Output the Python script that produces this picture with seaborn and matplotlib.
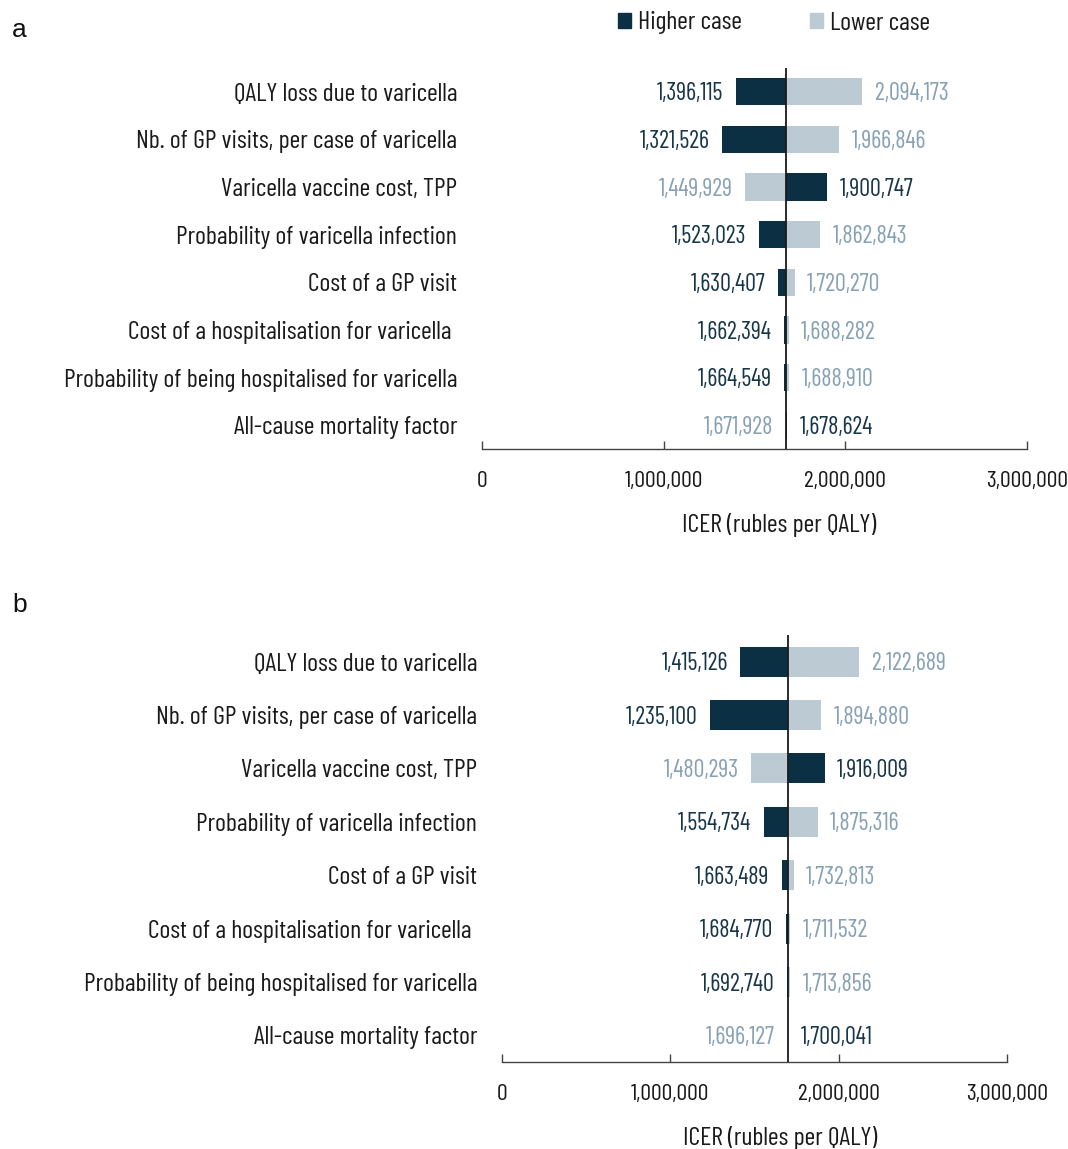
import matplotlib
matplotlib.use("Agg")
import matplotlib.pyplot as plt
import seaborn as sns
import pandas as pd
from matplotlib.patches import Patch

# ---------------- data ----------------
parameters = [
    "QALY loss due to varicella",
    "Nb. of GP visits, per case of varicella",
    "Varicella vaccine cost, TPP",
    "Probability of varicella infection",
    "Cost of a GP visit",
    "Cost of a hospitalisation for varicella ",
    "Probability of being hospitalised for varicella",
    "All-cause mortality factor",
]
cases = ["Higher case", "Lower case"]

higher_a = [1396115, 1321526, 1900747, 1523023, 1630407, 1662394, 1664549, 1678624]
lower_a = [2094173, 1966846, 1449929, 1862843, 1720270, 1688282, 1688910, 1671928]
base_a = 1675000

higher_b = [1415126, 1235100, 1916009, 1554734, 1663489, 1684770, 1692740, 1700041]
lower_b = [2122689, 1894880, 1480293, 1875316, 1732813, 1711532, 1713856, 1696127]
base_b = 1698500

x_ticks = [0, 1000000, 2000000, 3000000]
x_tick_labels = ["0", "1,000,000", "2,000,000", "3,000,000"]
x_label = "ICER (rubles per QALY)"

# ---------------- style ----------------
sns.set_theme(style="white")
plt.rcParams['font.family'] = ['Barlow Condensed', 'DejaVu Sans']

DARK = "#0b3044"
LIGHT = "#bccad4"
DARK_TXT = "#183649"
LIGHT_TXT = "#87a1b5"
W, H = 1068, 1149

fig = plt.figure(figsize=(W / 100, H / 100), dpi=100)
ax_a = fig.add_axes([482 / W, 1 - 449 / H, 545 / W, 381 / H])
ax_b = fig.add_axes([502 / W, 1 - 1062 / H, 505 / W, 427 / H])


def draw(ax, hi, lo, base, bar_w):
    n = len(parameters)
    df = pd.DataFrame({
        "param": parameters * 2,
        "icer": hi + lo,
        "case": [cases[0]] * n + [cases[1]] * n,
    })
    df["delta"] = df["icer"] - base
    sns.barplot(data=df, x="delta", y="param", hue="case", order=parameters,
                hue_order=cases, palette=[DARK, LIGHT], dodge=False,
                orient="h", left=base, width=bar_w, ax=ax, legend=False,
                errorbar=None, saturation=1, linewidth=0)
    ax.axvline(base, color="#1a1a1a", lw=1.3, zorder=5)
    for i in range(n):
        for val, col in ((hi[i], DARK_TXT), (lo[i], LIGHT_TXT)):
            if val < base:
                ax.annotate(f"{val:,}", (val, i), xytext=(-9, -1.5),
                            textcoords="offset points", ha="right", va="center",
                            fontsize=17.5, color=col)
            else:
                ax.annotate(f"{val:,}", (val, i), xytext=(9, -1.5),
                            textcoords="offset points", ha="left", va="center",
                            fontsize=17.5, color=col)
    ax.set_xlim(0, 3000000)
    ax.set_ylim(len(parameters) - 0.5, -0.5)
    ax.set_xticks(x_ticks)
    ax.set_xticklabels(x_tick_labels)
    ax.set_ylabel("")
    ax.set_xlabel(x_label, fontsize=18.7, color="#1a1a1a")
    for s in ("top", "right", "left"):
        ax.spines[s].set_visible(False)
    ax.spines["bottom"].set_color("#444444")
    ax.spines["bottom"].set_linewidth(1.0)
    ax.tick_params(axis="x", direction="in", length=6, width=1, color="#444444",
                   pad=16, labelsize=17.2, labelcolor="#1a1a1a", bottom=True)
    ax.tick_params(axis="y", length=0, pad=18, labelsize=18.7, labelcolor="#1a1a1a")


draw(ax_a, higher_a, lower_a, base_a, 0.57)
draw(ax_b, higher_b, lower_b, base_b, 0.56)
# x label placement: centre ~76 px below the axis line
ax_a.xaxis.set_label_coords((779 - 482) / 545, -76 / 381)
ax_a.xaxis.label.set_va("center")
ax_b.xaxis.set_label_coords((780 - 502) / 505, -76 / 427)
ax_b.xaxis.label.set_va("center")

fig.legend(handles=[Patch(color=DARK), Patch(color=LIGHT)], labels=cases,
           loc="center", bbox_to_anchor=(774 / W, 1 - 23 / H), ncol=2,
           frameon=False, handlelength=0.5, handleheight=0.5,
           handletextpad=0.3, columnspacing=2.6, fontsize=18.7,
           labelcolor="#1a1a1a")

fig.text(12 / W, 1 - 30 / H, "a", fontsize=19, family="Liberation Sans",
         va="center", ha="left", color="#111111")
fig.text(12 / W, 1 - 605 / H, "b", fontsize=19, family="Liberation Sans",
         va="center", ha="left", color="#111111")

fig.savefig("out.png", dpi=100)
